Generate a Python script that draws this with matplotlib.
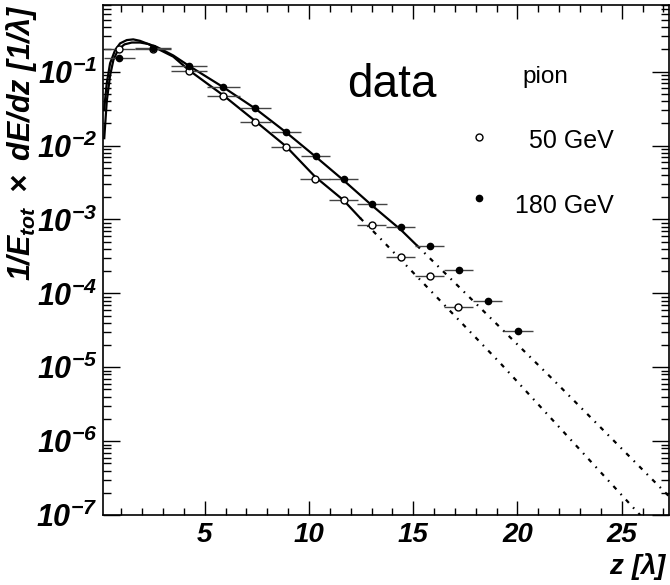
import numpy as np
import matplotlib
matplotlib.use("Agg")
import matplotlib.pyplot as plt
import matplotlib.ticker as mticker

plt.rcParams.update({
    "font.family": "Liberation Sans",
    "mathtext.fontset": "custom",
    "mathtext.rm": "Liberation Sans:bold:italic",
    "mathtext.it": "Liberation Sans:bold:italic",
    "mathtext.bf": "Liberation Sans:bold:italic",
})

# ── data ─────────────────────────────────────────────────────────────────────
# 180 GeV (filled dots)
z_180    = [0.90, 2.53, 4.24, 5.89, 7.43, 8.90, 10.32, 11.66, 13.02, 14.41, 15.80, 17.19, 18.57, 20.04]
dedz_180 = [0.152, 0.207, 0.119, 0.0615, 0.032, 0.0152, 0.00726, 0.00352, 0.00161,
            0.00078, 0.000431, 0.000209, 7.96e-5, 3.1e-5]
zerr_180 = [0.75, 0.86, 0.85, 0.80, 0.75, 0.72, 0.70, 0.68, 0.70, 0.70, 0.70, 0.70, 0.70, 0.72]

# 50 GeV (open circles)
z_50     = [0.90, 2.53, 4.24, 5.89, 7.43, 8.90, 10.29, 11.66, 13.00, 14.41, 15.80, 17.16]
dedz_50  = [0.20, 0.205, 0.103, 0.0474, 0.0211, 0.00968, 0.00352, 0.00181, 0.00083,
            0.000306, 0.00017, 6.5e-5]
zerr_50  = [0.75, 0.86, 0.85, 0.80, 0.75, 0.72, 0.70, 0.68, 0.70, 0.70, 0.70, 0.70]

# fitted profiles (solid) and their extrapolation (dash-dot)
fit50_z   = [0.17, 0.30, 0.46, 0.70, 0.94, 1.26, 1.57, 1.89, 2.29, 2.70, 3.49, 4.24,
             5.89, 7.43, 8.90, 10.29, 11.66, 12.45]
fit50_y   = [0.0302, 0.0697, 0.130, 0.196, 0.242, 0.268, 0.274, 0.262, 0.237, 0.207,
             0.160, 0.105, 0.0479, 0.0214, 0.00977, 0.0038, 0.00182, 0.00105]
ext50_z   = [12.45, 13.40, 19.16, 25.72, 26.30]
ext50_y   = [0.00105, 0.000562, 1.15e-5, 1.12e-7, 7.5e-8]

fit180_z  = [0.18, 0.30, 0.46, 0.62, 0.85, 1.15, 1.50, 1.90, 2.30, 2.70, 3.49, 4.24,
             5.89, 7.43, 8.90, 10.32, 11.66, 13.02, 14.41, 15.17]
fit180_y  = [0.0126, 0.0398, 0.0891, 0.1445, 0.1995, 0.2344, 0.2483, 0.2483, 0.2371,
             0.2163, 0.166, 0.1202, 0.0617, 0.0316, 0.01514, 0.00708, 0.00339, 0.00155,
             0.000724, 0.000447]
ext180_z  = [15.17, 21.72, 27.35]
ext180_y  = [0.000447, 6.76e-6, 1.70e-7]

y_ticks  = [1e-7, 1e-6, 1e-5, 1e-4, 1e-3, 1e-2, 1e-1]
y_labels = [r"$10^{-7}$", r"$10^{-6}$", r"$10^{-5}$", r"$10^{-4}$", r"$10^{-3}$",
            r"$10^{-2}$", r"$10^{-1}$"]
x_ticks  = [5, 10, 15, 20, 25]

# ── figure ───────────────────────────────────────────────────────────────────
W, H = 670, 585
fig = plt.figure(figsize=(W / 100, H / 100), dpi=100)
ax = fig.add_axes([103 / W, 70 / H, 566 / W, 510 / H])

ax.set_yscale("log")
ax.set_xlim(0.12, 27.27)
ax.set_ylim(1e-7, 0.8)

dotdash = (0, (2.0, 2.8, 0.7, 2.8))
ax.plot(fit50_z, fit50_y, color="black", lw=1.6)
ax.plot(fit180_z, fit180_y, color="black", lw=1.6)
ax.plot(ext50_z, ext50_y, color="black", lw=1.6, linestyle=dotdash)
ax.plot(ext180_z, ext180_y, color="black", lw=1.6, linestyle=dotdash)

ax.errorbar(z_50, dedz_50, xerr=zerr_50, fmt="o", ms=5, mfc="white", mec="black",
            mew=1.0, ecolor="#444444", elinewidth=1.0, capsize=0, zorder=3)
ax.errorbar(z_180, dedz_180, xerr=zerr_180, fmt="o", ms=4.5, mfc="black", mec="black",
            ecolor="#444444", elinewidth=1.0, capsize=0, zorder=4)

# axes styling (ROOT-like)
ax.set_xticks(x_ticks)
ax.set_xticklabels([str(t) for t in x_ticks], fontsize=20, fontweight="bold",
                   fontstyle="italic")
ax.xaxis.set_minor_locator(mticker.MultipleLocator(1))
ax.set_yticks(y_ticks)
ax.set_yticklabels(y_labels, fontsize=22)
ax.yaxis.set_minor_locator(mticker.LogLocator(base=10, subs=np.arange(2, 10), numticks=20))
ax.yaxis.set_minor_formatter(mticker.NullFormatter())

ax.tick_params(axis="x", which="major", direction="in", length=10, width=1,
               top=True, pad=5)
ax.tick_params(axis="x", which="minor", direction="in", length=5, width=1, top=True)
ax.tick_params(axis="y", which="major", direction="in", length=12, width=1,
               right=True, pad=4)
ax.tick_params(axis="y", which="minor", direction="in", length=6, width=1, right=True)
for sp in ax.spines.values():
    sp.set_linewidth(1.2)

# legend drawn by hand
ax.plot([0.665], [0.742], "o", ms=5, mfc="white", mec="black", mew=1.0,
        transform=ax.transAxes)
ax.plot([0.665], [0.621], "o", ms=4.5, mfc="black", mec="black",
        transform=ax.transAxes)
ax.text(0.510, 0.843, "data", transform=ax.transAxes, fontsize=33,
        ha="center", va="center")
ax.text(0.781, 0.858, "pion", transform=ax.transAxes, fontsize=17.5,
        ha="center", va="center")
ax.text(0.902, 0.734, "50 GeV", transform=ax.transAxes, fontsize=18,
        ha="right", va="center")
ax.text(0.902, 0.605, "180 GeV", transform=ax.transAxes, fontsize=18,
        ha="right", va="center")

# axis titles
fig.text(668 / W, 3 / H, r"$z\ [\lambda]$", fontsize=20, ha="right", va="bottom")
fig.text(22 / W, 1 - 4 / H, r"$1/E_{tot}\ \times\ dE/dz\ [1/\lambda]$",
         fontsize=22, rotation=90, ha="center", va="top")

fig.savefig("out.png", dpi=100)
